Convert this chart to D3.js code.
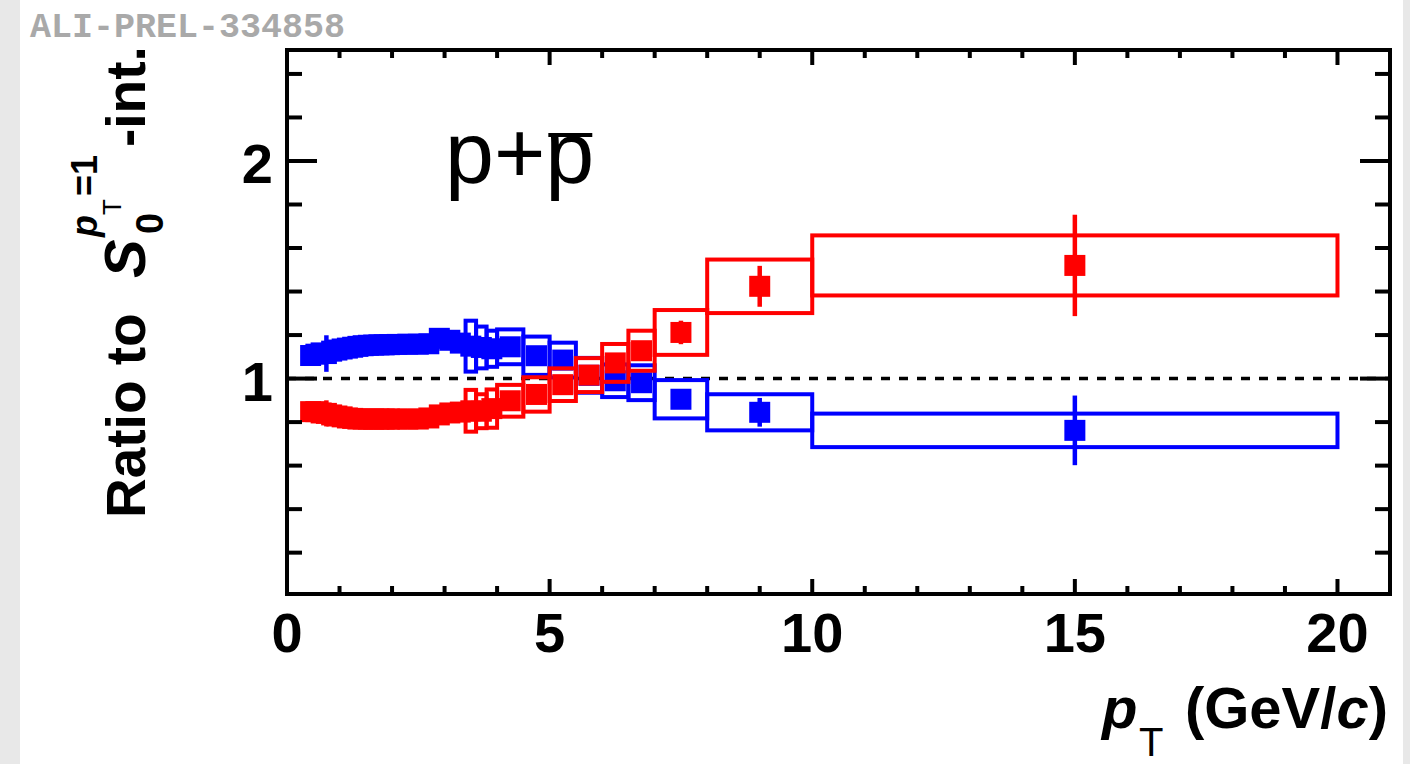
<!DOCTYPE html>
<html>
<head>
<meta charset="utf-8">
<script src="https://cdn.jsdelivr.net/npm/d3@7"></script>
<style>
  html, body { margin: 0; padding: 0; background: #e8e8e8; }
  svg { display: block; }
  text { font-family: "Liberation Sans", Arial, Helvetica, sans-serif; }
</style>
</head>
<body>
<svg id="chart" width="1410" height="764"></svg>
<script>
// pT bin edges (GeV/c) and bin centres
const binLow  = [0.4,0.5,0.6,0.7,0.8,0.9,1.0,1.1,1.2,1.3,1.4,1.5,1.6,1.7,1.8,1.9,
                 2.0,2.2,2.4,2.6,2.8,3.0,3.2,3.4,3.6,3.8,4.0,4.5,5.0,5.5,6.0,6.5,7.0,8.0,10.0];
const binHigh = [0.5,0.6,0.7,0.8,0.9,1.0,1.1,1.2,1.3,1.4,1.5,1.6,1.7,1.8,1.9,2.0,
                 2.2,2.4,2.6,2.8,3.0,3.2,3.4,3.6,3.8,4.0,4.5,5.0,5.5,6.0,6.5,7.0,8.0,10.0,20.0];

// Jetty-like class (blue): ratio, stat. error, syst. error
const blueVal  = [1.106,1.112,1.118,1.115,1.126,1.131,1.136,1.140,1.144,1.148,1.151,1.153,1.154,1.155,1.155,1.156,
                  1.157,1.158,1.158,1.160,1.185,1.176,1.163,1.149,1.143,1.137,1.146,1.105,1.085,1.015,0.990,0.981,0.905,0.845,0.762];
const blueStat = [0.005,0.005,0.005,0.084,0.005,0.005,0.005,0.005,0.005,0.005,0.005,0.005,0.005,0.005,0.005,0.005,
                  0.005,0.005,0.005,0.006,0.006,0.007,0.008,0.010,0.010,0.011,0.010,0.012,0.014,0.016,0.018,0.020,0.030,0.066,0.160];
const blueSyst = [0.030,0.030,0.030,0.030,0.030,0.030,0.030,0.030,0.030,0.030,0.030,0.030,0.030,0.030,0.030,0.030,
                  0.030,0.030,0.030,0.030,0.030,0.030,0.030,0.117,0.096,0.083,0.080,0.088,0.080,0.080,0.075,0.080,0.088,0.083,0.077];

// Isotropic-like class (red): ratio, stat. error, syst. error
const redVal  = [0.848,0.848,0.842,0.840,0.833,0.828,0.824,0.819,0.817,0.814,0.814,0.814,0.814,0.814,0.814,0.814,
                 0.814,0.814,0.814,0.819,0.833,0.842,0.846,0.852,0.850,0.862,0.898,0.927,0.972,1.016,1.072,1.128,1.212,1.424,1.520];
const redStat = [0.005,0.005,0.005,0.060,0.005,0.005,0.005,0.005,0.005,0.005,0.005,0.005,0.005,0.005,0.005,0.005,
                 0.005,0.005,0.005,0.006,0.006,0.007,0.008,0.010,0.010,0.011,0.010,0.012,0.014,0.016,0.018,0.020,0.054,0.094,0.233];
const redSyst = [0.030,0.030,0.030,0.030,0.030,0.030,0.030,0.030,0.030,0.030,0.030,0.030,0.030,0.030,0.030,0.030,
                 0.030,0.030,0.030,0.030,0.030,0.030,0.030,0.096,0.078,0.088,0.073,0.079,0.075,0.078,0.087,0.092,0.103,0.123,0.138];

// Axis ticks and labels
const xMajorTicks = [0, 5, 10, 15, 20];
const xMinorTicks = d3.range(0, 22, 1);
const yMajorTicks = [1, 2];
const yMinorTicks = [0.2,0.4,0.6,0.8,1.0,1.2,1.4,1.6,1.8,2.0,2.2,2.4];

const svg = d3.select("#chart");
const W = 1410, H = 764;

// page background and white canvas
svg.append("rect").attr("width", W).attr("height", H).attr("fill", "#e8e8e8");
svg.append("rect").attr("x", 20).attr("y", 0).attr("width", 1383).attr("height", H).attr("fill", "#ffffff");

const frame = { left: 287, right: 1390, top: 50, bottom: 594 };
const x = d3.scaleLinear().domain([0, 21]).range([frame.left, frame.right]);
const y = d3.scaleLinear().domain([0.01, 2.51]).range([frame.bottom, frame.top]);

const plot = svg.append("g");

// clip to frame
svg.append("clipPath").attr("id", "clip")
  .append("rect").attr("x", frame.left).attr("y", frame.top)
  .attr("width", frame.right - frame.left).attr("height", frame.bottom - frame.top);

const data = binLow.map((lo, i) => ({
  lo, hi: binHigh[i], pt: (lo + binHigh[i]) / 2,
  b: blueVal[i], bs: blueStat[i], bsy: blueSyst[i],
  r: redVal[i], rs: redStat[i], rsy: redSyst[i]
}));

// reference line at unity
plot.append("line")
  .attr("x1", x(0)).attr("x2", x(21)).attr("y1", y(1)).attr("y2", y(1))
  .attr("stroke", "#000").attr("stroke-width", 3.5).attr("stroke-dasharray", "9,9");

function drawSeries(valKey, statKey, systKey, color) {
  const g = plot.append("g").attr("clip-path", "url(#clip)");
  // systematic boxes
  g.selectAll("rect.syst").data(data).enter().append("rect")
    .attr("x", d => x(d.lo)).attr("width", d => x(d.hi) - x(d.lo))
    .attr("y", d => y(d[valKey] + d[systKey]))
    .attr("height", d => y(d[valKey] - d[systKey]) - y(d[valKey] + d[systKey]))
    .attr("fill", "none").attr("stroke", color).attr("stroke-width", 4);
  // statistical error bars
  g.selectAll("line.stat").data(data).enter().append("line")
    .attr("x1", d => x(d.pt)).attr("x2", d => x(d.pt))
    .attr("y1", d => y(d[valKey] + d[statKey])).attr("y2", d => y(d[valKey] - d[statKey]))
    .attr("stroke", color).attr("stroke-width", 4.5);
  // markers
  const ms = 21;
  g.selectAll("rect.mk").data(data).enter().append("rect")
    .attr("x", d => x(d.pt) - ms / 2).attr("y", d => y(d[valKey]) - ms / 2)
    .attr("width", ms).attr("height", ms).attr("fill", color);
}
drawSeries("b", "bs", "bsy", "#0000ff");
drawSeries("r", "rs", "rsy", "#ff0000");

// frame and ticks
const axes = svg.append("g").attr("stroke", "#000").attr("stroke-width", 4);
axes.append("rect")
  .attr("x", frame.left).attr("y", frame.top)
  .attr("width", frame.right - frame.left).attr("height", frame.bottom - frame.top)
  .attr("fill", "none").attr("stroke-linejoin", "miter");

xMinorTicks.forEach(t => {
  const len = xMajorTicks.includes(t) ? 15 : 8;
  axes.append("line").attr("x1", x(t)).attr("x2", x(t)).attr("y1", frame.bottom).attr("y2", frame.bottom - len);
  axes.append("line").attr("x1", x(t)).attr("x2", x(t)).attr("y1", frame.top).attr("y2", frame.top + len);
});
yMinorTicks.forEach(t => {
  const len = yMajorTicks.some(m => Math.abs(m - t) < 1e-9) ? 30 : 15;
  axes.append("line").attr("y1", y(t)).attr("y2", y(t)).attr("x1", frame.left).attr("x2", frame.left + len);
  axes.append("line").attr("y1", y(t)).attr("y2", y(t)).attr("x1", frame.right).attr("x2", frame.right - len);
});

// tick labels
const lab = svg.append("g").attr("font-weight", "bold").attr("font-size", 56).attr("fill", "#000");
xMajorTicks.forEach(t => {
  lab.append("text").attr("x", x(t)).attr("y", 652).attr("text-anchor", "middle").text(t);
});
yMajorTicks.forEach(t => {
  lab.append("text").attr("x", 273).attr("y", y(t) + 22).attr("text-anchor", "end").text(t);
});

// x-axis title
const xt = svg.append("g").attr("fill", "#000");
xt.append("text").attr("x", 1102).attr("y", 728).attr("font-size", 58)
  .attr("font-weight", "bold").attr("font-style", "italic").text("p");
xt.append("text").attr("x", 1139).attr("y", 756).attr("font-size", 40).text("T");
const xtt = xt.append("text").attr("x", 1388).attr("y", 728).attr("font-size", 58)
  .attr("font-weight", "bold").attr("text-anchor", "end");
xtt.append("tspan").text("(GeV/");
xtt.append("tspan").attr("font-style", "italic").text("c");
xtt.append("tspan").text(")");

// y-axis title, written along the axis
const yt = svg.append("g").attr("transform", "translate(145,518) rotate(-90)")
  .attr("fill", "#000").attr("font-weight", "bold");
yt.append("text").attr("x", 0).attr("y", 0).attr("font-size", 55).text("Ratio to");
yt.append("text").attr("x", 240).attr("y", 0).attr("font-size", 58).attr("font-style", "italic").text("S");
yt.append("text").attr("x", 284).attr("y", 18).attr("font-size", 38).text("0");
yt.append("text").attr("x", 281).attr("y", -48).attr("font-size", 36).attr("font-style", "italic").text("p");
yt.append("text").attr("x", 303).attr("y", -24).attr("font-size", 26).attr("font-weight", "normal").text("T");
yt.append("text").attr("x", 322).attr("y", -48).attr("font-size", 36).text("=1");
yt.append("text").attr("x", 371).attr("y", 0).attr("font-size", 55).text("-int.");

// particle label
const pl = svg.append("text").attr("x", 445).attr("y", 183).attr("font-size", 88).attr("fill", "#000");
pl.append("tspan").text("p+p");
const ext = pl.node().getExtentOfChar(2);
svg.append("line")
  .attr("x1", ext.x + 3).attr("x2", ext.x + ext.width - 2)
  .attr("y1", 135).attr("y2", 135)
  .attr("stroke", "#000").attr("stroke-width", 4);

// preliminary figure id
svg.append("text").attr("x", 30).attr("y", 37)
  .style("font-family", "'Liberation Mono', 'Courier New', 'DejaVu Sans Mono', monospace")
  .attr("font-weight", "bold").attr("font-size", 35).attr("fill", "#a9a9a9")
  .text("ALI-PREL-334858");
</script>
</body>
</html>
